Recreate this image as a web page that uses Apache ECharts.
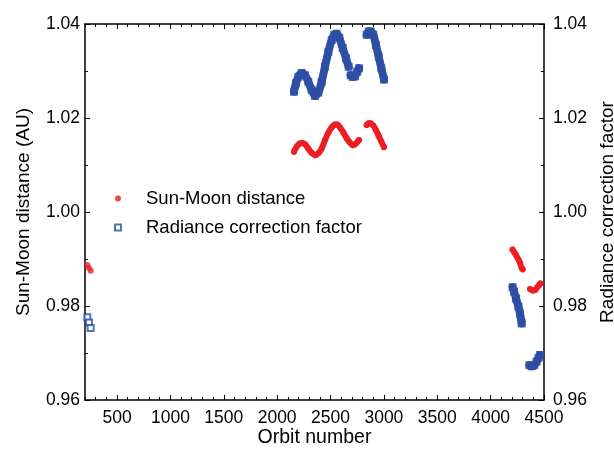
<!DOCTYPE html>
<html>
<head>
<meta charset="utf-8">
<script src="https://cdn.jsdelivr.net/npm/echarts@6/dist/echarts.min.js"></script>
<style>html,body{margin:0;padding:0;background:#fff}#c{width:614px;height:449px}</style>
</head>
<body>
<div id="c"></div>
<script>
// ---- data (orbit number, value) ----
const orbitTickLabels = [500, 1000, 1500, 2000, 2500, 3000, 3500, 4000, 4500];

const distanceEarly = [[222, 0.9887], [237, 0.9881], [253, 0.9875]];
const distanceSegA = [[2158,1.0128],[2183,1.0139],[2208,1.0145],[2233,1.0147],[2261,1.0144],[2292,1.0135],[2323,1.0126],[2355,1.0121],[2386,1.0125],[2417,1.0135],[2448,1.0153],[2480,1.0169],[2511,1.0180],[2542,1.0186],[2564,1.0186],[2589,1.0180],[2620,1.0169],[2651,1.0157],[2673,1.0150]];
const distanceSegB = [[2689,1.0146],[2708,1.0142],[2730,1.0144],[2751,1.0149],[2767,1.0153]];
const distanceSegC = [[2839,1.0185],[2858,1.0189],[2876,1.0189],[2901,1.0184],[2926,1.0174],[2951,1.0162],[2976,1.0150],[3001,1.0138]];
const distanceSegD = [[4206,0.9920],[4222,0.9914],[4238,0.9908],[4260,0.9899],[4275,0.9892],[4291,0.9881],[4300,0.9878]];
const distanceSegE = [[4369,0.9836],[4391,0.9833],[4416,0.9834],[4438,0.9840],[4456,0.9845],[4466,0.9848]];

const factorEarly = [[222, 0.9776], [237, 0.9765], [253, 0.9753]];
const factorSegA = [[2158,1.0256],[2177,1.0274],[2199,1.0288],[2230,1.0296],[2261,1.0291],[2292,1.0277],[2323,1.0260],[2355,1.0247],[2386,1.0254],[2417,1.0277],[2448,1.0309],[2480,1.0341],[2511,1.0366],[2536,1.0377],[2558,1.0379],[2583,1.0370],[2614,1.0349],[2645,1.0327],[2670,1.0309]];
const factorSegB = [[2689,1.0291],[2708,1.0287],[2730,1.0289],[2751,1.0299],[2767,1.0306]];
const factorSegC = [[2839,1.0377],[2858,1.0384],[2876,1.0384],[2901,1.0377],[2926,1.0355],[2951,1.0331],[2976,1.0306],[3001,1.0282]];
const factorSegD = [[4206,0.9840],[4219,0.9831],[4238,0.9816],[4260,0.9799],[4275,0.9784],[4291,0.9763]];
const factorSegE = [[4363,0.9674],[4384,0.9672],[4409,0.9674],[4431,0.9682],[4450,0.9690],[4463,0.9696]];

// ---- chart ----
const RED = '#ee1d24', BLUE = '#2c4fa3';
const FONT = 'Liberation Sans, Arial, sans-serif';
const distanceSegs = [distanceSegA, distanceSegB, distanceSegC, distanceSegD, distanceSegE];
const factorSegs = [factorSegA, factorSegB, factorSegC, factorSegD, factorSegE];

const series = [];
factorSegs.forEach((s, i) => series.push({
  name: 'fline' + i, type: 'line', data: s, xAxisIndex: 0, yAxisIndex: 1,
  showSymbol: false, smooth: 0.3, z: 4, silent: true,
  lineStyle: { color: BLUE, width: 8, cap: 'round', join: 'round' }
}));
series.push({
  name: 'Radiance correction factor', type: 'scatter', xAxisIndex: 0, yAxisIndex: 1,
  data: [].concat(factorEarly, ...factorSegs), symbol: 'emptyRect', symbolSize: 6, z: 3,
  itemStyle: { color: BLUE, borderColor: BLUE, borderWidth: 1.2 }
});
distanceSegs.forEach((s, i) => series.push({
  name: 'dline' + i, type: 'line', data: s, xAxisIndex: 0, yAxisIndex: 0,
  showSymbol: false, smooth: 0.3, z: 6, silent: true,
  lineStyle: { color: RED, width: 6, cap: 'round', join: 'round' }
}));
series.push({
  name: 'Sun-Moon distance', type: 'scatter', xAxisIndex: 0, yAxisIndex: 0,
  data: [].concat(distanceEarly, ...distanceSegs), symbol: 'circle', symbolSize: 6, z: 5,
  itemStyle: { color: RED }
});

const axisTxt = { color: '#000', fontSize: 17.5, fontFamily: FONT };
const baseX = { type: 'value', min: 200, max: 4500, splitLine: { show: false } };
const yCommon = {
  type: 'value', min: 0.96, max: 1.04, interval: 0.02, splitLine: { show: false },
  axisLine: { show: true, lineStyle: { color: '#000', width: 1.5 } },
  axisTick: { show: true, inside: true, length: 5, lineStyle: { color: '#000', width: 1 } },
  minorTick: { show: true, splitNumber: 2, length: 3, lineStyle: { color: '#000', width: 1 } },
  nameLocation: 'middle', nameRotate: 90
};

const option = {
  backgroundColor: '#fff',
  animation: false,
  grid: { left: 85, right: 70, top: 24, bottom: 49, containLabel: false, outerBoundsMode: 'none' },
  legend: {
    data: [
      { name: 'Sun-Moon distance', icon: 'circle' },
      { name: 'Radiance correction factor', icon: 'emptyRect' }
    ],
    orient: 'vertical', left: 109, top: 184, itemWidth: 6, itemHeight: 6, itemGap: 10,
    textStyle: { color: '#000', fontSize: 18.5, fontFamily: FONT, padding: [0, 0, 0, 20] }
  },
  xAxis: [
    Object.assign({}, baseX, {
      position: 'bottom', interval: 100,
      axisLine: { show: true, onZero: false, lineStyle: { color: '#000', width: 1.5 } },
      axisTick: { show: true, inside: true, length: 3, lineStyle: { color: '#000', width: 1 } },
      axisLabel: { show: false },
      name: 'Orbit number', nameLocation: 'middle', nameGap: 28,
      nameTextStyle: { color: '#000', fontSize: 19.5, fontFamily: FONT }
    }),
    Object.assign({}, baseX, {
      position: 'bottom',
      axisLine: { show: false, onZero: false },
      axisTick: { show: true, inside: true, length: 5, customValues: orbitTickLabels, lineStyle: { color: '#000', width: 1 } },
      axisLabel: Object.assign({ show: true, margin: 9, customValues: orbitTickLabels, formatter: v => String(v) }, axisTxt)
    }),
    Object.assign({}, baseX, {
      position: 'top', interval: 100,
      axisLine: { show: true, onZero: false, lineStyle: { color: '#000', width: 1.5 } },
      axisTick: { show: true, inside: true, length: 3, lineStyle: { color: '#000', width: 1 } },
      axisLabel: { show: false }
    }),
    Object.assign({}, baseX, {
      position: 'top',
      axisLine: { show: false, onZero: false },
      axisTick: { show: true, inside: true, length: 5, customValues: orbitTickLabels, lineStyle: { color: '#000', width: 1 } },
      axisLabel: { show: false }
    })
  ],
  yAxis: [
    Object.assign({}, yCommon, {
      position: 'left', name: 'Sun-Moon distance (AU)', nameGap: 52,
      nameTextStyle: { color: '#000', fontSize: 19, fontFamily: FONT },
      axisLabel: Object.assign({ margin: 5, formatter: v => v.toFixed(2) }, axisTxt)
    }),
    Object.assign({}, yCommon, {
      position: 'right', name: 'Radiance correction factor', nameGap: 44,
      nameTextStyle: { color: '#000', fontSize: 19, fontFamily: FONT },
      axisLabel: Object.assign({ margin: 9, formatter: v => v.toFixed(2) }, axisTxt)
    })
  ],
  series: series
};

const chart = echarts.init(document.getElementById('c'), null, { renderer: 'canvas' });
chart.setOption(option);
</script>
</body>
</html>
